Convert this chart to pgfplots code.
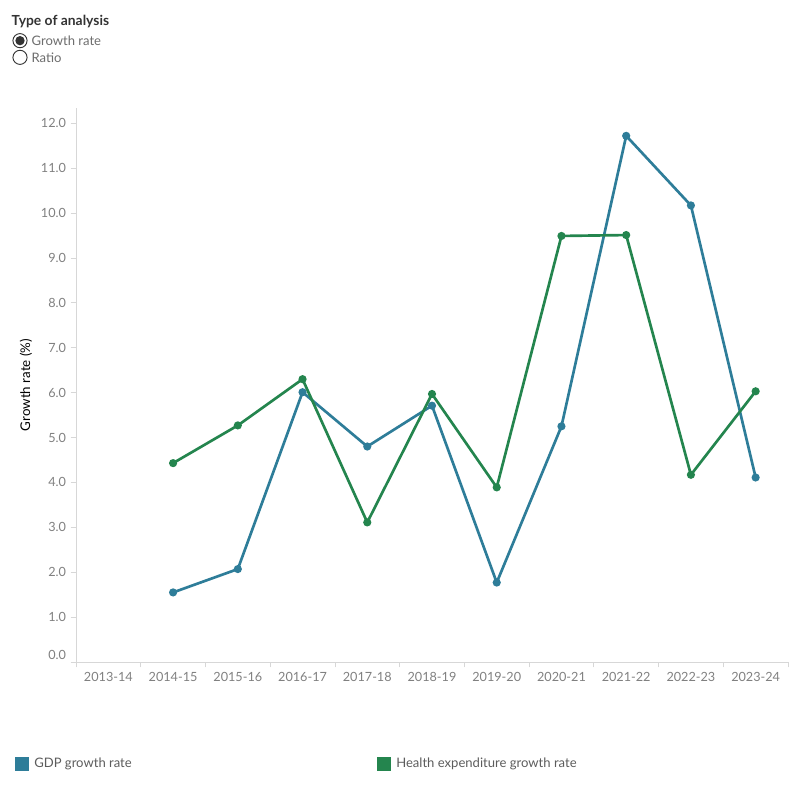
\documentclass[border=0pt]{standalone}
\usepackage{pgfplots}
\pgfplotsset{compat=1.18}
\usepackage{pgfplotstable}
\usepackage{fontspec}
\setmainfont{Lato}
\definecolor{gdp}{RGB}{46,125,153}
\definecolor{hlth}{RGB}{36,133,78}
\definecolor{tickgrey}{RGB}{128,128,128}
\definecolor{axgrey}{RGB}{215,215,215}
\definecolor{dark}{RGB}{51,51,51}

\pgfplotstableread{
x gdp health
1 1.55 4.43
2 2.07 5.27
3 6.01 6.30
4 4.80 3.11
5 5.71 5.97
6 1.77 3.89
7 5.25 9.49
8 11.72 9.51
9 10.17 4.17
10 4.11 6.03
}\datatable

\begin{document}
\begin{tikzpicture}
\path[use as bounding box] (0,0) rectangle (600pt,-600pt);
% header
\node[anchor=west, inner sep=0pt, text=dark, font=\fontsize{10.4}{12}\selectfont\bfseries] at (8.5pt,-16.5pt) {Type of analysis};
\draw[dark, line width=0.7pt] (15pt,-30.5pt) circle (5.3pt);
\fill[dark] (15pt,-30.5pt) circle (3.5pt);
\draw[dark, line width=0.7pt] (15pt,-43pt) circle (5.3pt);
\node[anchor=west, inner sep=0pt, text=tickgrey!85!black, font=\fontsize{9.8}{11}\selectfont] at (23.5pt,-30.5pt) {Growth rate};
\node[anchor=west, inner sep=0pt, text=tickgrey!85!black, font=\fontsize{9.8}{11}\selectfont] at (23.5pt,-43pt) {Ratio};

\begin{axis}[
  at={(57pt,-496.5pt)}, anchor=south west,
  scale only axis, width=534pt, height=415.5pt,
  xmin=-0.5, xmax=10.5, ymin=0, ymax=12.34,
  axis lines=left, axis line style={axgrey, line width=0.6pt, -},
  xtick={0,...,10},
  xticklabels={2013-14,2014-15,2015-16,2016-17,2017-18,2018-19,2019-20,2020-21,2021-22,2022-23,2023-24},
  major x tick style={draw=none},
  minor xtick={-0.5,0.5,...,10.5},
  minor tick length=4pt,
  minor x tick style={axgrey, line width=0.6pt},
  ytick={1,...,12},
  extra y ticks={0},
  extra y tick style={yticklabel style={yshift=5.5pt}},
  major tick length=4pt,
  tick align=outside,
  y tick style={axgrey, line width=0.6pt},
  tick label style={font=\fontsize{9.5}{11}\selectfont, text=tickgrey},
  /pgf/number format/assume math mode=true,
  yticklabel={\pgfmathprintnumber[fixed, fixed zerofill, precision=1]{\tick}},
  ylabel={Growth rate (\%)},
  ylabel style={font=\fontsize{9.5}{11}\selectfont, text=black},
  every axis y label/.style={at={(ticklabel cs:0.5)}, rotate=90, anchor=center},
  clip=false,
]
\addplot[gdp, line width=2pt, mark=*, mark size=2pt, mark options={solid, fill=gdp, draw=gdp}] table[x=x, y=gdp] {\datatable};
\addplot[hlth, line width=2pt, mark=*, mark size=2pt, mark options={solid, fill=hlth, draw=hlth}] table[x=x, y=health] {\datatable};
\end{axis}

% legend
\fill[gdp] (11.25pt,-567.75pt) rectangle (21.75pt,-578.25pt);
\node[anchor=west, inner sep=0pt, text=dark!80, font=\fontsize{9.8}{11}\selectfont] at (25.5pt,-573pt) {GDP growth rate};
\fill[hlth] (282.75pt,-567.75pt) rectangle (293.25pt,-578.25pt);
\node[anchor=west, inner sep=0pt, text=dark!80, font=\fontsize{9.8}{11}\selectfont] at (297pt,-573pt) {Health expenditure growth rate};
\end{tikzpicture}
\end{document}
